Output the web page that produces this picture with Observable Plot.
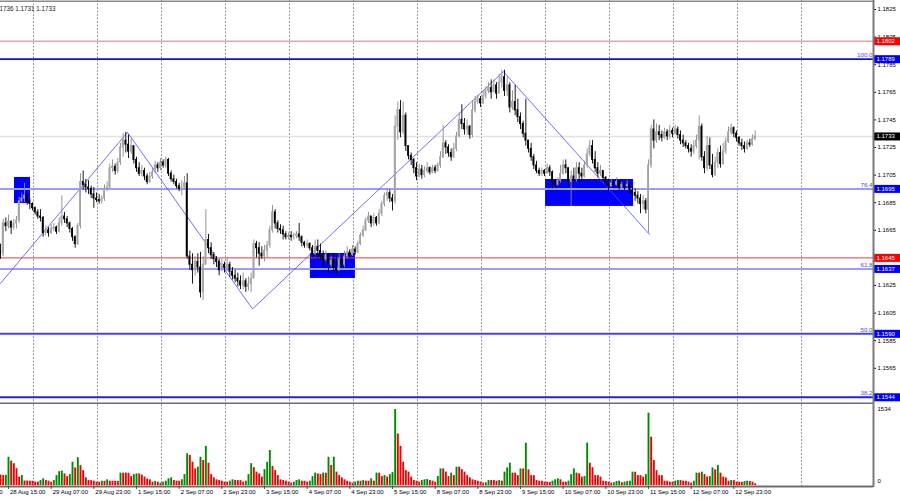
<!DOCTYPE html>
<html><head><meta charset="utf-8">
<script src="https://cdn.jsdelivr.net/npm/d3@7"></script>
<script src="https://cdn.jsdelivr.net/npm/@observablehq/plot@0.6"></script>
<style>
html,body{margin:0;padding:0;background:#fff;}
#chart{width:900px;height:500px;overflow:hidden;background:#fff;}
#chart svg{display:block;}
</style></head><body><div id="chart"></div>
<script>
// Prices are given in pips above 1.1600 (e.g. 45 -> 1.1645)
const base = 1.16, pip = 0.0001;
const opens = [50,48,70,68,71,67,70,72,86,88, 90,86,84,81,78,75,74,63,65,63, 66,67,64,70,75,73,70,66,60,55, 68,100,98,96,95,91,88,87,86,88,
95,96,110,111,108,114,125,130,127,122, 126,116,110,106,108,104,100,104,107,112, 110,114,112,116,106,102,100,97,95,96, 99,46,40,36,42,38,20,40,58,52,
47,44,42,36,40,38,40,35,32,30, 28,25,28,24,26,30,55,52,48,46, 50,54,65,78,70,66,65,62,60,61, 60,61,62,60,56,54,55,52,48,53,
50,46,44,47,40,43,38,36,44,40, 46,49,47,51,49,55,61,65,72,75, 70,74,70,77,84,90,92,88,86,140, 152,136,148,126,119,116,110,104,109,105,
108,110,107,110,108,112,118,128,125,121, 118,124,133,145,142,138,140,134,152,158, 160,157,162,166,168,165,170,164,172,176, 166,170,154,158,152,147,142,135,130,124,
118,112,108,106,108,106,110,107,100,98, 101,106,112,110,100,104,102,110,106,104, 112,120,126,116,110,106,108,103,100,97, 99,98,100,96,98,97,98,94,92,90,
88,84,86,80,112,138,130,136,134,132, 136,133,137,135,138,134,130,128,126,124, 122,126,130,140,118,110,126,112,105,114, 121,113,122,129,136,139,135,132,128,126,
124,128,127,131];
const highs = [55,73,74,76,72,73,75,89,92,99, 92,88,85,82,80,80,75,68,67,69, 70,68,74,90,78,75,71,67,61,70, 106,108,102,101,97,96,92,91,90,98,
100,113,116,113,117,128,135,136,134,131, 126,118,114,112,110,106,107,110,115,114, 117,116,118,117,108,105,102,99,101,104, 106,50,48,46,48,49,46,80,62,56,
49,46,44,44,42,45,42,38,36,34, 32,34,30,31,34,58,57,56,53,54, 57,68,83,80,72,69,68,64,63,64, 63,64,70,61,57,58,56,54,58,58,
55,50,50,48,46,48,46,48,46,50, 53,51,54,53,57,63,68,74,78,75, 77,75,80,86,92,95,94,91,148,158, 159,158,150,126,121,117,114,113,112,111,
114,111,112,112,114,122,141,130,127,124, 128,136,150,156,146,145,141,159,162,163, 162,166,169,172,174,174,172,178,181,181, 176,172,166,170,160,150,144,160,130,128,
120,115,110,110,109,113,112,108,102,103, 112,116,116,110,108,110,114,114,110,115, 124,130,130,122,114,112,108,104,102,102, 101,103,101,100,100,101,99,96,95,93,
91,90,88,116,141,145,142,141,137,139, 138,141,139,141,140,137,134,130,128,127, 130,134,148,142,122,133,132,120,118,124, 126,128,132,140,142,140,137,133,131,129,
130,131,134,137];
const lows = [44,46,64,66,62,65,66,70,84,85, 83,80,79,76,73,71,60,61,60,62, 64,62,63,68,70,67,63,57,52,54, 66,94,92,91,88,81,85,84,84,86,
93,95,107,105,106,112,118,121,117,120, 113,107,104,104,101,98,99,102,106,107, 108,110,110,104,100,98,95,93,90,95, 44,36,26,32,34,16,14,40,48,44,
40,38,32,35,34,35,31,29,27,24, 22,22,20,21,20,30,45,39,44,42, 45,52,63,66,63,62,58,58,58,57, 58,59,57,53,52,52,50,45,47,44,
43,38,42,34,38,34,33,35,37,38, 44,45,46,47,48,54,60,64,70,67, 68,68,69,75,82,86,85,79,84,130, 132,134,122,116,112,106,101,103,102,103,
106,105,106,106,107,110,117,120,118,115, 117,122,132,138,134,134,131,132,150,156, 154,156,160,164,160,165,160,164,168,162, 162,150,152,148,143,138,132,126,121,115,
109,106,104,104,104,106,104,95,96,97, 99,105,106,97,82,98,100,100,101,103, 110,118,113,107,103,104,101,97,94,96, 95,97,94,95,94,95,92,88,86,84,
77,80,77,63,110,124,128,130,129,131, 130,131,132,134,131,127,125,124,121,118, 120,124,116,115,106,108,109,103,104,110, 110,112,120,128,134,132,129,126,123,121,
123,125,126,130];
const closes = [48,70,68,71,67,70,72,86,88,90, 86,84,81,78,75,74,63,65,63,66, 67,64,70,75,73,70,66,60,55,68, 100,98,96,95,91,88,87,86,88,95,
96,110,111,108,114,125,130,127,122,126, 116,110,106,108,104,100,104,107,112,110, 114,112,116,106,102,100,97,95,96,99, 46,40,36,42,38,20,40,58,52,47,
44,42,36,40,38,40,35,32,30,28, 25,28,24,26,30,55,52,48,46,50, 54,65,78,70,66,65,62,60,61,60, 61,62,60,56,54,55,52,48,53,50,
46,44,47,40,43,38,36,44,40,46, 49,47,51,49,55,61,65,72,75,70, 74,70,77,84,90,92,88,86,140,152, 136,148,126,119,116,110,104,109,105,108,
110,107,110,108,112,118,128,125,121,118, 124,133,145,142,138,140,134,152,158,160, 157,162,166,168,165,170,164,172,176,166, 170,154,158,152,147,142,135,130,124,118,
112,108,106,108,106,110,107,100,98,101, 106,112,110,100,104,102,110,106,104,112, 120,126,116,110,106,108,103,100,97,99, 98,100,96,98,97,98,94,92,90,88,
84,86,80,112,138,130,136,134,132,136, 133,137,135,138,134,130,128,126,124,122, 126,130,140,118,110,126,112,105,114,121, 113,122,129,136,139,135,132,128,126,124,
128,127,131,133];
const volumes = [210,200,205,570,490,440,340,170,200,90, 90,88,86,70,70,100,135,100,87,67, 100,200,280,290,235,180,220,470,355,560, 400,300,155,100,98,87,67,66,87,86,
115,87,86,85,84,250,250,250,248,180, 220,235,234,210,170,130,115,67,80,66, 47,67,87,135,155,100,87,86,115,220, 640,605,470,335,370,570,505,790,450,220,
155,115,100,87,67,66,87,115,100,99, 98,67,87,220,440,360,270,235,170,320, 470,705,385,300,200,115,100,87,67,47, 67,100,115,87,86,67,87,180,250,235,
220,250,248,570,405,570,270,200,155,115, 87,67,47,67,87,86,100,87,86,135, 87,250,248,180,200,170,220,260,1534,1040, 790,470,300,270,170,100,87,67,100,115,
120,100,87,67,180,335,335,270,180,250, 200,370,370,320,270,200,155,115,100,87, 67,47,55,100,100,99,87,100,87,270, 355,450,250,248,200,335,334,855,315,200,
199,100,87,86,67,66,65,87,115,135, 115,67,66,87,220,335,250,235,170,180, 855,450,360,200,199,170,87,80,67,47, 55,80,87,55,67,80,87,270,268,200,
199,170,220,1460,975,505,300,200,199,87, 86,67,66,87,100,99,87,86,67,47, 87,250,249,270,220,170,180,355,315,405, 250,170,155,87,100,99,67,66,65,80,
87,80,67,35];
const volumeMax = 1534;
const timeLabels = ["27 Aug 23:00","28 Aug 15:00","29 Aug 07:00","29 Aug 23:00","1 Sep 15:00","2 Sep 07:00","2 Sep 23:00","3 Sep 15:00","4 Sep 07:00","4 Sep 23:00","5 Sep 15:00","8 Sep 07:00","8 Sep 23:00","9 Sep 15:00","10 Sep 07:00","10 Sep 23:00","11 Sep 15:00","12 Sep 07:00","12 Sep 23:00"];
const priceTicks = [1.1825,1.1805,1.1785,1.1765,1.1745,1.1725,1.1705,1.1685,1.1665,1.1645,1.1625,1.1605,1.1585,1.1565,1.1545];
const levelPrices = [1.1802,1.1789,1.1733,1.1695,1.1645,1.1637,1.1590,1.1544];
const levelTexts = ["1.1802","1.1789","1.1733","1.1695","1.1645","1.1637","1.1590","1.1544"];
const fibTexts = ["","100.0","","76.4","","61.8","50.0","38.2"];
const zigzagBars = [0, 47.6, 94.5, 188.6, 243.4];
const zigzagPrices = [1.16265, 1.1736, 1.1608, 1.1780, 1.1662];
const zoneBarStart = [5.25, 116.2, 204.4];
const zoneBarEnd = [11.25, 133.1, 237.4];
const zoneTop = [1.17033, 1.16482, 1.17018];
const zoneBottom = [1.16844, 1.16301, 1.16823];
const infoText = ["1736 1.1731 1.1733"];

// ---- styling / layout ----
const pxPerBar = 2.6667, plotRight = 873;
const xDom = [0, plotRight / pxPerBar];
const yDom = [1.1825 - 395 / 13800, 1.1825 + 9 / 13800];
const lineColor = ["#f2a0a0","#1010d0","#e2e2e2","#9c9cff","#e23c3c","#9c9cff","#4646ee","#2222d8"];
const lineWidth = [1.4, 1.8, 1.6, 2, 1, 2, 2, 2];
const boxColor = ["#ff0000","#0000ff","#000000","#0000ff","#ff0000","#0000ff","#0000ff","#0000ff"];
const font = "'Liberation Sans', Arial, sans-serif";

const bars = closes.map((c, i) => {
  const o = base + opens[i] * pip, cl = base + c * pip;
  return {i, o, c: cl,
    h: base + Math.max(highs[i], opens[i], c) * pip,
    l: base + Math.min(lows[i], opens[i], c) * pip,
    up: c >= opens[i]};
});
const vols = volumes.map((v, i) => ({i, v, color: i > 0 && v > volumes[i - 1] ? "#008a00" : "#f00000"}));
const levels = levelPrices.map((p, k) => ({p, t: levelTexts[k], f: fibTexts[k], lc: lineColor[k], lw: lineWidth[k], bc: boxColor[k]}));
const zigzag = zigzagBars.map((b, k) => ({b, p: zigzagPrices[k]}));
const zones = zoneBarStart.map((s, k) => ({x1: s, x2: zoneBarEnd[k], y1: zoneBottom[k], y2: zoneTop[k]}));
const gridBars = d3.range(13).map(k => 12.375 + 24 * k);
const labelRows = timeLabels.map((t, j) => ({t, b: -13 + 16 * j}));
const boxRight = 900 / pxPerBar;

const priceChart = Plot.plot({
  width: 900, height: 404, marginLeft: 0, marginRight: 27, marginTop: 0, marginBottom: 0,
  x: {domain: xDom, axis: null},
  y: {domain: yDom, axis: null},
  style: {fontFamily: font, fontSize: "6px", background: "#fff", color: "#000"},
  marks: [
    Plot.ruleX(gridBars, {stroke: "#9a9a9a", strokeDasharray: "2,1.5", strokeWidth: 1}),
    Plot.rect(zones, {x1: "x1", x2: "x2", y1: "y1", y2: "y2", fill: "#0000ff"}),
    ...levels.map(L => Plot.ruleY([L.p], {stroke: L.lc, strokeWidth: L.lw})),
    Plot.line(zigzag, {x: "b", y: "p", stroke: "#4a4aff", strokeWidth: 0.8}),
    Plot.ruleX(bars, {x: "i", y1: "l", y2: "h", stroke: d => d.up ? "#8a8a8a" : "#000000", strokeWidth: 0.9}),
    Plot.rect(bars, {x1: d => d.i - 0.34, x2: d => d.i + 0.34, y1: "o", y2: "c", insetTop: -0.5, insetBottom: -0.5,
      fill: d => d.up ? "#a4a4a4" : "#000000"}),
    Plot.text(levels.filter(L => L.f), {x: xDom[1], y: "p", text: "f", textAnchor: "end", dx: -1, dy: -4, fill: "#4848ff", fontSize: 6.2}),
    Plot.axisY({anchor: "right", ticks: priceTicks, tickFormat: d => d.toFixed(4), tickSize: 2, tickPadding: 2, fontSize: 6}),
    Plot.ruleY(levels, {y: "p", x1: xDom[1], x2: boxRight, stroke: "bc", strokeWidth: 8}),
    Plot.text(levels, {x: xDom[1], y: "p", text: "t", fill: "#fff", textAnchor: "start", dx: 3, fontSize: 6}),
    Plot.ruleX([xDom[1]], {stroke: "#7a7a7a", strokeWidth: 2}),
    Plot.ruleY([yDom[0]], {stroke: "#6e6e6e", strokeWidth: 2, dy: -1}),
    Plot.ruleY([yDom[1]], {stroke: "#8a8a8a", strokeWidth: 1.5, dy: 0.75}),
    Plot.text(infoText, {frameAnchor: "top-left", dx: -1, dy: 6, fontSize: 6.3, fill: "#222"})
  ]
});

const volumeChart = Plot.plot({
  width: 900, height: 96, marginLeft: 0, marginRight: 27, marginTop: 5, marginBottom: 15,
  x: {domain: xDom, axis: null},
  y: {domain: [0, volumeMax], axis: null},
  style: {fontFamily: font, fontSize: "6px", background: "#fff", color: "#000"},
  marks: [
    Plot.ruleX(gridBars, {stroke: "#9a9a9a", strokeDasharray: "2,1.5", strokeWidth: 1, insetTop: -5, insetBottom: -1}),
    Plot.ruleX(vols, {x: "i", y1: 0, y2: "v", stroke: "color", strokeWidth: 1.9}),
    Plot.ruleX([xDom[1]], {stroke: "#7a7a7a", strokeWidth: 2, insetTop: -5, insetBottom: -2}),
    Plot.ruleY([0], {stroke: "#6e6e6e", strokeWidth: 2, dy: 1}),
    Plot.text([volumeMax], {x: xDom[1], y: d => d, text: d => String(d), textAnchor: "start", dx: 4, dy: 0, fontSize: 6}),
    Plot.text([0], {x: xDom[1], y: d => d, text: d => String(d), textAnchor: "start", dx: 4, dy: -4, fontSize: 6}),
    Plot.ruleX(labelRows, {x: "b", stroke: "#333", insetTop: 77, insetBottom: -4, strokeWidth: 0.8}),
    Plot.text(labelRows, {x: "b", text: "t", frameAnchor: "bottom", textAnchor: "start", dx: 1.5, dy: 8, fontSize: 6})
  ]
});

const root = document.getElementById("chart");
root.appendChild(priceChart);
root.appendChild(volumeChart);
</script>
</body></html>
